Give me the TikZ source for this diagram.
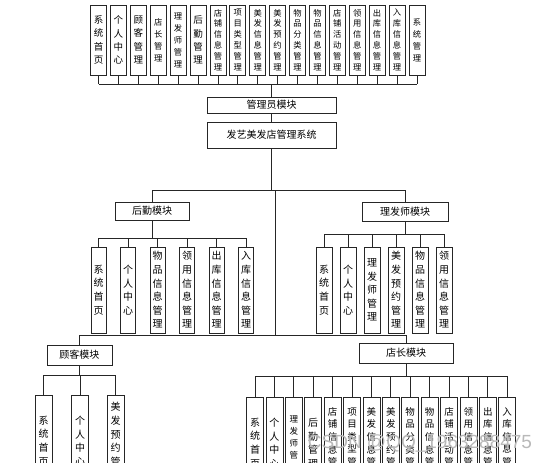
\documentclass[tikz,border=0pt]{standalone}
\usepackage{fontspec}
\newfontfamily\cjk{Noto Sans CJK SC}
\newfontfamily\wmfont{Liberation Sans}
\tikzset{
  box/.style={draw=black!85, line width=0.7pt, inner sep=0pt, align=center, fill=white},
  topb/.style={box, minimum width=16pt, minimum height=70pt, font=\cjk\fontsize{9.5}{13.3}\selectfont},
  topc/.style={box, minimum width=16pt, minimum height=70pt, font=\cjk\fontsize{8.3}{10.9}\selectfont},
  topd/.style={box, minimum width=16pt, minimum height=70pt, font=\cjk\fontsize{8.3}{12}\selectfont},
  midb/.style={box, minimum width=15pt, minimum height=86pt, font=\cjk\fontsize{10}{13.6}\selectfont},
  botb/.style={box, minimum width=17pt, minimum height=92pt, font=\cjk\fontsize{10}{13.6}\selectfont},
  botc/.style={box, minimum width=17pt, minimum height=92pt, font=\cjk\fontsize{9.5}{12.6}\selectfont},
  botd/.style={box, minimum width=17pt, minimum height=92pt, font=\cjk\fontsize{8.5}{12}\selectfont},
  modb/.style={box, font=\cjk\fontsize{10}{12}\selectfont},
  link/.style={draw=black!85, line width=0.7pt},
}
\begin{document}
\begin{tikzpicture}[x=1pt,y=-1pt]
\useasboundingbox (0,0) rectangle (547,463);
\clip (0,0) rectangle (547,463);
\fill[white] (0,0) rectangle (547,463);

% bus coordinates
\coordinate (bus1) at (0,84);
\coordinate (bus2) at (0,190);
\coordinate (j1) at (275,190);
\coordinate (j2) at (275,335);
\coordinate (bhq) at (0,238);
\coordinate (blf) at (0,234);
\coordinate (bgk) at (0,375);
\coordinate (bdz) at (0,376);

% top row
\node[topb] (t1)  at (98.5,40)  {系\\统\\首\\页};
\node[topb] (t2)  at (118.4,40) {个\\人\\中\\心};
\node[topb] (t3)  at (138.3,40) {顾\\客\\管\\理};
\node[topd] (t4)  at (158.2,40) {店\\长\\管\\理};
\node[topd] (t5)  at (178.1,40) {理\\发\\师\\管\\理};
\node[topb] (t6)  at (198.0,40) {后\\勤\\管\\理};
\node[topc] (t7)  at (217.9,40) {店\\铺\\信\\息\\管\\理};
\node[topc] (t8)  at (237.8,40) {项\\目\\类\\型\\管\\理};
\node[topc] (t9)  at (257.7,40) {美\\发\\信\\息\\管\\理};
\node[topc] (t10) at (277.6,40) {美\\发\\预\\约\\管\\理};
\node[topc] (t11) at (297.5,40) {物\\品\\分\\类\\管\\理};
\node[topc] (t12) at (317.4,40) {物\\品\\信\\息\\管\\理};
\node[topc] (t13) at (337.3,40) {店\\铺\\活\\动\\管\\理};
\node[topc] (t14) at (357.2,40) {领\\用\\信\\息\\管\\理};
\node[topc] (t15) at (377.1,40) {出\\库\\信\\息\\管\\理};
\node[topc] (t16) at (397.0,40) {入\\库\\信\\息\\管\\理};
\node[topd] (t17) at (416.9,40) {系\\统\\管\\理};

\node[modb, minimum width=129pt, minimum height=16pt] (adm) at (271.5,105) {管理员模块};
\node[modb, minimum width=129pt, minimum height=26pt] (sys) at (271.5,135) {发艺美发店管理系统};

\foreach \i in {1,...,17} \draw[link] (t\i.south) -- (t\i.south |- bus1);
\draw[link] (t1.south |- bus1) -- (t17.south |- bus1);
\draw[link] (bus1 -| adm.north) -- (adm.north);
\draw[link] (adm.south) -- (sys.north);

% second level
\node[modb, minimum width=74pt, minimum height=18pt] (hq) at (152,211) {后勤模块};
\node[modb, minimum width=86pt, minimum height=19pt] (lfs) at (405,211.5) {理发师模块};
\draw[link] (sys.south) -- (sys.south |- bus2);
\draw[link] (hq.north |- bus2) -- (lfs.north |- bus2);
\draw[link] (hq.north |- bus2) -- (hq.north);
\draw[link] (lfs.north |- bus2) -- (lfs.north);

% hq children
\node[midb] (h1) at (98.5,290)  {系\\统\\首\\页};
\node[midb] (h2) at (128,290)   {个\\人\\中\\心};
\node[midb] (h3) at (157.5,290) {物\\品\\信\\息\\管\\理};
\node[midb] (h4) at (187,290)   {领\\用\\信\\息\\管\\理};
\node[midb] (h5) at (216.5,290) {出\\库\\信\\息\\管\\理};
\node[midb] (h6) at (246,290)   {入\\库\\信\\息\\管\\理};
\draw[link] (hq.south) -- (hq.south |- bhq);
\draw[link] (h1.north |- bhq) -- (h6.north |- bhq);
\foreach \i in {1,...,6} \draw[link] (h\i.north |- bhq) -- (h\i.north);

% lfs children
\node[midb, minimum width=16pt] (l1) at (324,290) {系\\统\\首\\页};
\node[midb, minimum width=16pt] (l2) at (348,290) {个\\人\\中\\心};
\node[midb, minimum width=16pt] (l3) at (372,290) {理\\发\\师\\管\\理};
\node[midb, minimum width=16pt] (l4) at (396,290) {美\\发\\预\\约\\管\\理};
\node[midb, minimum width=16pt] (l5) at (420,290) {物\\品\\信\\息\\管\\理};
\node[midb, minimum width=16pt] (l6) at (444,290) {领\\用\\信\\息\\管\\理};
\draw[link] (lfs.south) -- (lfs.south |- blf);
\draw[link] (l1.north |- blf) -- (l6.north |- blf);
\foreach \i in {1,...,6} \draw[link] (l\i.north |- blf) -- (l\i.north);

% trunk to third level
\draw[link] (j1) -- (j2);
\node[modb, minimum width=65pt, minimum height=20pt] (gk) at (79.5,355) {顾客模块};
\node[modb, minimum width=94pt, minimum height=20pt] (dz) at (406,353) {店长模块};
\draw[link] (gk.north) -- (gk.north |- j2) -- (dz.north |- j2) -- (dz.north);

% gk children
\node[botb] (g1) at (43.5,441) {系\\统\\首\\页};
\node[botb] (g2) at (80,441)   {个\\人\\中\\心};
\node[botb] (g3) at (115.5,441) {美\\发\\预\\约\\管\\理};
\draw[link] (gk.south) -- (gk.south |- bgk);
\draw[link] (g1.north |- bgk) -- (g3.north |- bgk);
\foreach \i in {1,...,3} \draw[link] (g\i.north |- bgk) -- (g\i.north);

% dz children
\node[botb] (d1)  at (255.0,443) {系\\统\\首\\页};
\node[botb] (d2)  at (274.4,443) {个\\人\\中\\心};
\node[botd] (d3)  at (293.8,443) {理\\发\\师\\管\\理};
\node[botb] (d4)  at (313.2,443) {后\\勤\\管\\理};
\node[botc] (d5)  at (332.6,443) {店\\铺\\信\\息\\管\\理};
\node[botc] (d6)  at (352.0,443) {项\\目\\类\\型\\管\\理};
\node[botc] (d7)  at (371.4,443) {美\\发\\信\\息\\管\\理};
\node[botc] (d8)  at (390.8,443) {美\\发\\预\\约\\管\\理};
\node[botc] (d9)  at (410.2,443) {物\\品\\分\\类\\管\\理};
\node[botc] (d10) at (429.6,443) {物\\品\\信\\息\\管\\理};
\node[botc] (d11) at (449.0,443) {店\\铺\\活\\动\\管\\理};
\node[botc] (d12) at (468.4,443) {领\\用\\信\\息\\管\\理};
\node[botc] (d13) at (487.8,443) {出\\库\\信\\息\\管\\理};
\node[botc] (d14) at (507.2,443) {入\\库\\信\\息\\管\\理};
\draw[link] (dz.south) -- (dz.south |- bdz);
\draw[link] (d1.north |- bdz) -- (d14.north |- bdz);
\foreach \i in {1,...,14} \draw[link] (d\i.north |- bdz) -- (d\i.north);

% watermark
\node[text=gray!55, font=\wmfont\fontsize{19}{19}\selectfont, inner sep=0pt] (wm) at (420,444) {CSDN @QQ\_1963288475};
\end{tikzpicture}
\end{document}
